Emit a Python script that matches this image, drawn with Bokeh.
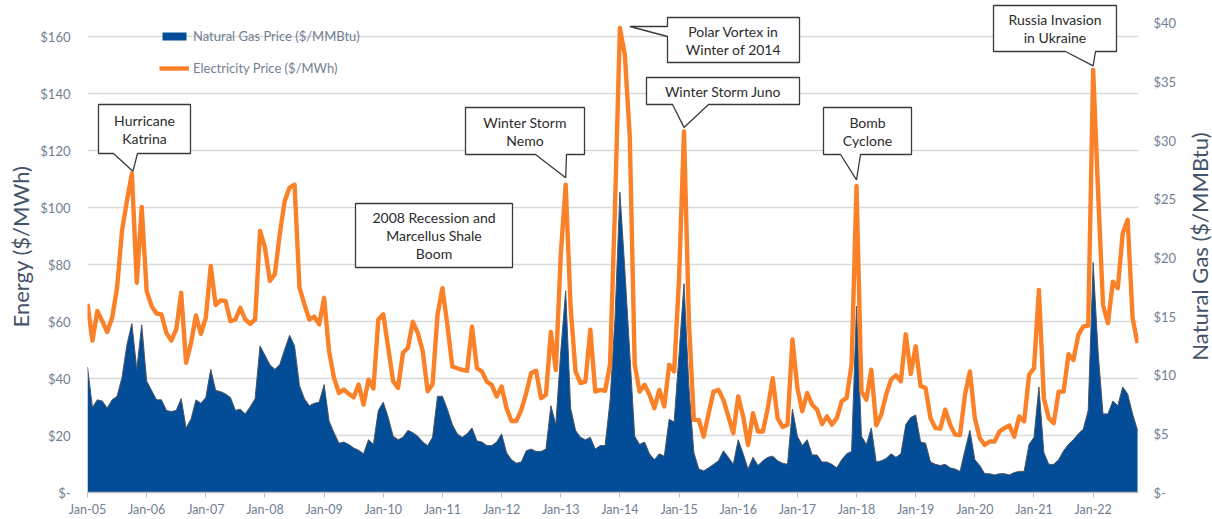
from bokeh.plotting import figure
from bokeh.layouts import row
from bokeh.models import Range1d, LinearAxis, FixedTicker, Legend, LegendItem
from bokeh.core.properties import value
from bokeh.embed import file_html
from bokeh.resources import INLINE

# ---------------- data (monthly, Jan-05 .. Oct-22) ----------------
elec = [66.2, 53.3, 63.7, 60.1, 56.3, 61.3, 71.9, 91.8, 102.3, 112.0, 73.6, 100.2,
        70.7, 65.4, 62.8, 62.5, 56.0, 53.3, 57.2, 70.1, 45.5, 52.5, 62.1, 55.7,
        61.3, 79.5, 65.8, 67.4, 67.2, 60.1, 60.7, 64.8, 60.7, 59.2, 60.7, 91.8,
        85.9, 74.2, 76.6, 90.6, 102.3, 107.0, 108.0, 71.9, 66.0, 60.7, 61.7, 59.0,
        68.3, 49.6, 40.2, 34.9, 36.1, 34.6, 33.4, 37.9, 30.8, 39.6, 36.5, 60.7,
        62.5, 50.8, 39.0, 36.7, 49.0, 50.8, 59.9, 56.0, 49.6, 35.5, 38.0, 62.3,
        71.7, 58.8, 44.2, 43.6, 43.0, 42.7, 58.2, 43.6, 42.5, 38.9, 37.8, 33.7,
        37.2, 29.6, 25.1, 25.1, 29.0, 34.9, 41.9, 42.7, 33.1, 34.3, 56.3, 43.0,
        83.4, 108.0, 65.0, 42.5, 38.4, 38.9, 57.1, 35.4, 36.0, 35.7, 45.0, 100.0,
        163.0, 153.6, 125.0, 45.0, 35.4, 37.8, 34.3, 29.6, 36.0, 30.2, 44.8, 42.5,
        75.0, 126.7, 60.0, 25.5, 25.5, 19.6, 27.8, 35.4, 36.0, 32.5, 26.7, 20.8,
        33.7, 26.7, 16.7, 27.8, 21.4, 21.4, 29.6, 40.1, 26.0, 23.0, 23.8, 53.7,
        36.7, 28.5, 34.9, 30.8, 29.1, 24.0, 26.7, 23.8, 26.1, 32.0, 33.2, 45.0,
        107.6, 35.5, 32.6, 43.1, 23.6, 27.3, 34.3, 39.6, 41.1, 39.0, 55.5, 41.6,
        51.3, 37.3, 36.7, 26.1, 22.6, 22.4, 29.1, 23.8, 20.3, 20.2, 34.3, 42.5,
        26.1, 19.1, 16.7, 17.9, 17.9, 21.4, 22.6, 23.5, 19.6, 26.7, 24.9, 41.3,
        43.6, 71.1, 33.1, 26.1, 24.3, 35.4, 35.4, 48.5, 46.5, 55.3, 58.2, 58.6,
        148.3, 105.6, 65.8, 59.4, 74.0, 71.7, 91.0, 95.7, 61.2, 52.4]

gas = [10.7, 7.25, 7.9, 7.8, 7.2, 7.9, 8.2, 9.8, 12.6, 14.4, 10.5, 14.3,
       9.5, 8.7, 7.9, 7.9, 7.0, 6.9, 7.0, 8.0, 5.5, 6.25, 7.9, 7.6,
       8.1, 10.5, 8.7, 8.6, 8.4, 8.1, 7.0, 7.1, 6.7, 7.3, 8.0, 12.5,
       11.7, 10.9, 10.5, 10.9, 12.2, 13.4, 12.5, 9.1, 8.0, 7.4, 7.6, 7.7,
       9.2, 6.1, 5.1, 4.2, 4.3, 4.1, 3.8, 3.6, 3.3, 4.5, 4.1, 7.0,
       7.7, 6.4, 4.8, 4.5, 4.7, 5.3, 5.1, 4.8, 4.3, 4.0, 4.7, 8.2,
       8.2, 7.1, 5.8, 5.0, 4.7, 5.0, 5.5, 4.4, 4.3, 4.0, 4.0, 4.3,
       5.0, 3.4, 2.8, 2.5, 2.6, 3.55, 3.7, 3.5, 3.5, 3.7, 7.4, 5.8,
       12.0, 17.2, 7.2, 5.3, 4.7, 4.5, 4.7, 3.7, 4.0, 4.0, 7.8, 14.8,
       25.6, 19.0, 11.9, 4.8, 4.1, 4.3, 3.3, 2.8, 3.3, 3.1, 6.25, 6.0,
       11.8, 17.8, 9.0, 3.4, 2.0, 1.85, 2.1, 2.4, 2.7, 3.55, 3.0, 2.4,
       4.5, 3.3, 2.0, 3.0, 2.3, 2.7, 3.0, 3.1, 2.7, 2.5, 2.4, 7.1,
       4.8, 4.0, 4.5, 3.2, 3.2, 2.6, 2.6, 2.4, 2.1, 2.8, 3.3, 3.5,
       15.9, 4.8, 4.1, 5.5, 2.6, 2.7, 2.9, 3.3, 3.0, 3.3, 5.8, 6.4,
       6.6, 4.3, 4.2, 2.6, 2.4, 2.3, 2.4, 2.1, 2.0, 1.8, 3.6, 5.3,
       2.8, 2.3, 1.6, 1.6, 1.5, 1.6, 1.6, 1.5, 1.7, 1.8, 1.8, 4.1,
       4.7, 9.0, 3.4, 2.4, 2.4, 2.8, 3.55, 4.1, 4.5, 5.0, 5.4, 7.0,
       19.6, 12.0, 6.7, 6.7, 7.8, 7.4, 9.0, 8.4, 6.7, 5.3]

months = list(range(len(elec)))

year_labels = ["Jan-05", "Jan-06", "Jan-07", "Jan-08", "Jan-09", "Jan-10",
               "Jan-11", "Jan-12", "Jan-13", "Jan-14", "Jan-15", "Jan-16",
               "Jan-17", "Jan-18", "Jan-19", "Jan-20", "Jan-21", "Jan-22"]
left_ticks = [0, 20, 40, 60, 80, 100, 120, 140, 160]
left_tick_labels = ["$-", "$20", "$40", "$60", "$80", "$100", "$120", "$140", "$160"]
right_ticks = [0, 5, 10, 15, 20, 25, 30, 35, 40]
right_tick_labels = ["$-", "$5", "$10", "$15", "$20", "$25", "$30", "$35", "$40"]

series_names = ["Natural Gas Price ($/MMBtu)", "Electricity Price ($/MWh)"]
axis_titles = ["Energy ($/MWh)", "Natural Gas ($/MMBtu)"]

# callout annotations: text lines, anchor month (peak they point at)
events = [
    dict(lines=["Hurricane", "Katrina"], anchor=9),
    dict(lines=["2008 Recession and", "Marcellus Shale", "Boom"], anchor=None),
    dict(lines=["Winter Storm", "Nemo"], anchor=97),
    dict(lines=["Polar Vortex in", "Winter of 2014"], anchor=108),
    dict(lines=["Winter Storm Juno"], anchor=121),
    dict(lines=["Bomb", "Cyclone"], anchor=156),
    dict(lines=["Russia Invasion", "in Ukraine"], anchor=204),
]
# callout layout (page pixels): box, tail side, tail base, tip offset
callout_layout = [
    dict(box=(98, 104, 190, 153), side="bottom", base=(113, 137), tip=(1, 2)),
    dict(box=(355, 203, 512, 267), side=None, base=None, tip=None),
    dict(box=(465, 107, 584, 154), side="bottom", base=(535, 566), tip=(0, 7)),
    dict(box=(667, 17, 799, 62), side="left", base=(26, 36), tip=(10, 1)),
    dict(box=(646, 77, 799, 104), side="bottom", base=(672, 708), tip=(0, 4)),
    dict(box=(823, 107, 911, 154), side="bottom", base=(840, 860), tip=(0, 6)),
    dict(box=(993, 5, 1116, 51), side="bottom", base=(1065, 1095), tip=(0, 4)),
]

# ---------------- geometry ----------------
W, H = 1212, 519
LEFT_W, RIGHT_W = 34, 30          # narrow title strips
BL, BR, BT, BB = 87, 74, 0, 27    # page-pixel margins of the plot frame
FW, FH = W - BL - BR, H - BT - BB
x_end = (len(elec) - 1) + 0.2
yl_end = FH / 2.85
yr_end = FH / 11.73

FONT = "Lato"
TICK_COLOR = "#6F8094"
TITLE_COLOR = "#44546A"
BLUE = "#034C97"
ORANGE = "#FB8129"


def title_strip(text, width, center_y):
    """Narrow figure whose only visible element is a y-axis title (reads bottom-to-top)."""
    f = figure(width=width, height=H, x_range=Range1d(0, 1), y_range=Range1d(0, 1),
               output_backend="svg", toolbar_location=None,
               min_border_left=width - 1, min_border_right=0,
               min_border_top=0, min_border_bottom=H - 2 * center_y,
               background_fill_color="white", border_fill_color="white")
    f.outline_line_color = None
    f.grid.visible = False
    f.xaxis.visible = False
    ax = f.yaxis[0]
    ax.ticker = FixedTicker(ticks=[])
    ax.axis_line_color = None
    ax.major_tick_line_color = None
    ax.minor_tick_line_color = None
    ax.major_tick_out = 0
    ax.major_tick_in = 0
    ax.major_label_standoff = 0
    ax.axis_label = text
    ax.axis_label_text_font = FONT
    ax.axis_label_text_font_size = "22px"
    ax.axis_label_text_font_style = "normal"
    ax.axis_label_text_color = TITLE_COLOR
    ax.axis_label_standoff = 0
    return f


p = figure(width=W - LEFT_W - RIGHT_W, height=H, x_range=Range1d(0, x_end), y_range=Range1d(0, yl_end),
           output_backend="svg", toolbar_location=None,
           min_border_left=BL - LEFT_W, min_border_right=BR - RIGHT_W,
           min_border_top=BT, min_border_bottom=BB,
           background_fill_color="white", border_fill_color="white")
p.outline_line_color = None
p.extra_y_ranges = {"right": Range1d(0, yr_end)}
p.xgrid.visible = False
p.ygrid.ticker = FixedTicker(ticks=left_ticks)
p.ygrid.grid_line_color = "#D9D9D9"
p.ygrid.grid_line_width = 1.5

# left axis
ya = p.yaxis[0]
ya.ticker = FixedTicker(ticks=left_ticks)
ya.major_label_overrides = {t: s for t, s in zip(left_ticks, left_tick_labels)}
ya.axis_line_color = None
ya.major_tick_line_color = None
ya.minor_tick_line_color = None
ya.major_tick_out = 0
ya.major_tick_in = 0
ya.major_label_standoff = 17
ya.major_label_text_font = FONT
ya.major_label_text_font_size = "13px"
ya.major_label_text_color = TICK_COLOR

# right axis
ra = LinearAxis(y_range_name="right", ticker=FixedTicker(ticks=right_ticks))
ra.major_label_overrides = {t: s for t, s in zip(right_ticks, right_tick_labels)}
ra.axis_line_color = None
ra.major_tick_line_color = None
ra.minor_tick_line_color = None
ra.major_tick_out = 0
ra.major_tick_in = 0
ra.major_label_standoff = 15
ra.major_label_text_font = FONT
ra.major_label_text_font_size = "13px"
ra.major_label_text_color = TICK_COLOR
p.add_layout(ra, "right")

# bottom axis
xa = p.xaxis[0]
xticks = [12 * i for i in range(len(year_labels))]
xa.ticker = FixedTicker(ticks=xticks)
xa.major_label_overrides = {t: s for t, s in zip(xticks, year_labels)}
xa.axis_line_color = "#BFBFBF"
xa.axis_line_width = 1.5
xa.major_tick_line_color = "#BFBFBF"
xa.major_tick_out = 5
xa.major_tick_in = 0
xa.minor_tick_line_color = None
xa.major_label_standoff = 4
xa.major_label_text_font = FONT
xa.major_label_text_font_size = "12.5px"
xa.major_label_text_color = TICK_COLOR

# data
area = p.varea(x=months, y1=0, y2=gas, y_range_name="right", fill_color=BLUE)
p.line(x=months, y=gas, y_range_name="right", line_color="#4A5563", line_width=1)
eline = p.line(x=months, y=elec, line_color=ORANGE, line_width=4.4, line_join="round")


def dxp(px):
    return (px - BL) * x_end / FW


def dyp(py):
    return (BT + FH - py) * yl_end / FH


# callouts
tx, ty, tt = [], [], []
for ev, lay in zip(events, callout_layout):
    x0, y0, x1, y1 = lay["box"]
    if lay["side"] == "bottom":
        m = ev["anchor"]
        tipx = BL + m * FW / x_end + lay["tip"][0]
        tipy = BT + FH - elec[m] * FH / yl_end - lay["tip"][1]
        b1, b2 = lay["base"]
        pts = [(x0, y0), (x1, y0), (x1, y1), (b2, y1), (tipx, tipy), (b1, y1), (x0, y1)]
    elif lay["side"] == "left":
        m = ev["anchor"]
        tipx = BL + m * FW / x_end + lay["tip"][0]
        tipy = BT + FH - elec[m] * FH / yl_end - lay["tip"][1]
        b1, b2 = lay["base"]
        pts = [(x0, y0), (x1, y0), (x1, y1), (x0, y1), (x0, b2), (tipx, b1), (x0, b1)]
    else:
        pts = [(x0, y0), (x1, y0), (x1, y1), (x0, y1)]
    p.patch([dxp(a) for a, b in pts], [dyp(b) for a, b in pts],
            fill_color="white", line_color="#3A3A3A", line_width=1.3)
    n = len(ev["lines"])
    cy = (y0 + y1) / 2
    cx = (x0 + x1) / 2
    for i, s in enumerate(ev["lines"]):
        tx.append(dxp(cx))
        ty.append(dyp(cy + (i - (n - 1) / 2) * 18))
        tt.append(s)

p.text(x=tx, y=ty, text=tt, text_font=value(FONT), text_font_size="14px",
       text_align="center", text_baseline="middle", text_color="#2B2B2B")

legend = Legend(items=[LegendItem(label=series_names[0], renderers=[area]),
                       LegendItem(label=series_names[1], renderers=[eline])],
                location=(72, 416), orientation="vertical",
                background_fill_alpha=0, border_line_color=None,
                padding=0, margin=0, spacing=16, glyph_width=30, glyph_height=10,
                label_standoff=4, label_text_font=FONT, label_text_font_size="13px",
                label_text_color=TICK_COLOR)
p.add_layout(legend)

left_title = title_strip(axis_titles[0], LEFT_W, 257)
right_title = title_strip(axis_titles[1], RIGHT_W, 255)

layout = row(left_title, p, right_title, spacing=0)
open("out.html", "w").write(file_html(layout, INLINE))
